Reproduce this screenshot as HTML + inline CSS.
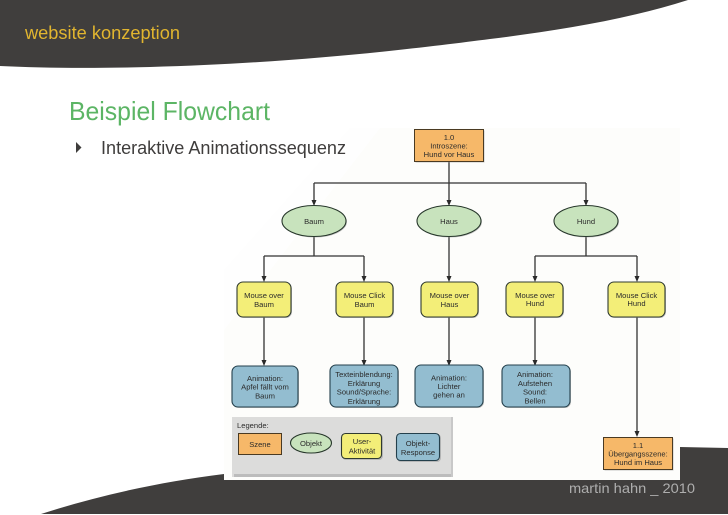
<!DOCTYPE html>
<html>
<head>
<meta charset="utf-8">
<style>
html,body{margin:0;padding:0;background:#fff;}
svg{display:block;}
text{font-family:"Liberation Sans",sans-serif;}
.n{font-size:7.6px;fill:#2b2b2b;text-anchor:middle;}
.c{stroke:#333;stroke-width:1.3;fill:none;}
.a{fill:#2a2a2a;}
.y{fill:#f3ee78;stroke:#2f3a30;stroke-width:1.1;}
.b{fill:#93bdd0;stroke:#24404c;stroke-width:1.1;}
.o{fill:#f6b869;stroke:#4a3a22;stroke-width:1;}
.e{fill:#c8e3bd;stroke:#27372b;stroke-width:1.1;}
.s{fill:#9a9a9a;opacity:.55;}
</style>
</head>
<body>
<svg width="728" height="515" viewBox="0 0 728 515" xmlns="http://www.w3.org/2000/svg">
<rect width="728" height="515" fill="#fff"/>

<!-- scanned image background -->
<path d="M350 128H680V480H224V270Z" fill="#fdfdfb"/>
<path d="M224 270L350 128H380L224 330Z" fill="#fefefe"/>

<!-- header -->
<path d="M0 0H688C625 20 555 31 490 39C420 48 300 63 150 67C90 68.500 40 68 0 66Z" fill="#403e3d"/>
<text x="25" y="39" font-size="18" fill="#e1b52f" textLength="155" lengthAdjust="spacingAndGlyphs">website konzeption</text>
<text x="69" y="120" font-size="26" fill="#5cb565" textLength="201" lengthAdjust="spacingAndGlyphs">Beispiel Flowchart</text>
<path d="M76 142L81.500 147.500L76 153Z" fill="#3f3d3c"/>
<text x="101" y="154" font-size="18" fill="#3f3d3c" textLength="245" lengthAdjust="spacingAndGlyphs">Interaktive Animationssequenz</text>

<!-- bottom band -->
<path d="M41 514C100 495 160 482 224 474V480H680V447L728 448V514Z" fill="#403e3d"/>
<text x="569" y="493" font-size="14" fill="#aeaeae" textLength="126" lengthAdjust="spacingAndGlyphs">martin hahn _ 2010</text>

<!-- connectors -->
<path class="c" d="M449 161V201M314 183H586M314 183V201M586 183V201"/>
<path class="c" d="M314 237V256M264 256H364M264 256V277M364 256V277"/>
<path class="c" d="M449 237V277"/>
<path class="c" d="M586 237V256M535 256H637M535 256V277M637 256V277"/>
<path class="c" d="M264 317V361M364 317V361M449 317V361M535 317V361M637 317V432"/>
<g class="a">
<path d="M311.500 200L316.500 200L314 206Z"/><path d="M446.500 200L451.500 200L449 206Z"/><path d="M583.500 200L588.500 200L586 206Z"/>
<path d="M261.500 276L266.500 276L264 282Z"/><path d="M361.500 276L366.500 276L364 282Z"/><path d="M446.500 276L451.500 276L449 282Z"/><path d="M532.500 276L537.500 276L535 282Z"/><path d="M634.500 276L639.500 276L637 282Z"/>
<path d="M261.500 360L266.500 360L264 366Z"/><path d="M361.500 360L366.500 360L364 366Z"/><path d="M446.500 360L451.500 360L449 366Z"/><path d="M532.500 360L537.500 360L535 366Z"/><path d="M634.500 431L639.500 431L637 437Z"/>
</g>

<!-- top scene -->
<rect class="s" x="415.500" y="130.500" width="69" height="32"/>
<rect class="o" x="414.500" y="129.500" width="69" height="32"/>
<text class="n" x="449" y="140">1.0</text>
<text class="n" x="449" y="148.500">Introszene:</text>
<text class="n" x="449" y="157">Hund vor Haus</text>

<!-- ellipses -->
<ellipse class="s" cx="315" cy="222" rx="32" ry="15.500"/>
<ellipse class="e" cx="314" cy="221" rx="32" ry="15.500"/>
<text class="n" x="314" y="224">Baum</text>
<ellipse class="s" cx="450" cy="222" rx="32" ry="15.500"/>
<ellipse class="e" cx="449" cy="221" rx="32" ry="15.500"/>
<text class="n" x="449" y="224">Haus</text>
<ellipse class="s" cx="587" cy="222" rx="32" ry="15.500"/>
<ellipse class="e" cx="586" cy="221" rx="32" ry="15.500"/>
<text class="n" x="586" y="224">Hund</text>

<!-- yellow -->
<rect class="s" x="238" y="283" width="54" height="35" rx="6"/>
<rect class="y" x="237" y="282" width="54" height="35" rx="6"/>
<text class="n" x="264" y="298">Mouse over</text><text class="n" x="264" y="307">Baum</text>
<rect class="s" x="337" y="283" width="57" height="35" rx="6"/>
<rect class="y" x="336" y="282" width="57" height="35" rx="6"/>
<text class="n" x="364.500" y="298">Mouse Click</text><text class="n" x="364.500" y="307">Baum</text>
<rect class="s" x="422" y="283" width="57" height="35" rx="6"/>
<rect class="y" x="421" y="282" width="57" height="35" rx="6"/>
<text class="n" x="449.500" y="298">Mouse over</text><text class="n" x="449.500" y="307">Haus</text>
<rect class="s" x="507" y="283" width="57" height="35" rx="6"/>
<rect class="y" x="506" y="282" width="57" height="35" rx="6"/>
<text class="n" x="535" y="298">Mouse over</text><text class="n" x="535" y="306">Hund</text>
<rect class="s" x="609" y="283" width="57" height="35" rx="6"/>
<rect class="y" x="608" y="282" width="57" height="35" rx="6"/>
<text class="n" x="636.500" y="298">Mouse Click</text><text class="n" x="636.500" y="306">Hund</text>

<!-- blue -->
<rect class="s" x="233" y="367" width="66" height="41" rx="6"/>
<rect class="b" x="232" y="366" width="66" height="41" rx="6"/>
<text class="n" x="265" y="381">Animation:</text><text class="n" x="265" y="389.500">Apfel fällt vom</text><text class="n" x="265" y="398.500">Baum</text>
<rect class="s" x="331" y="366" width="68" height="42" rx="6"/>
<rect class="b" x="330" y="365" width="68" height="42" rx="6"/>
<text class="n" x="364" y="377">Texteinblendung:</text><text class="n" x="364" y="386">Erklärung</text><text class="n" x="364" y="394.500">Sound/Sprache:</text><text class="n" x="364" y="404">Erklärung</text>
<rect class="s" x="416" y="366" width="68" height="42" rx="6"/>
<rect class="b" x="415" y="365" width="68" height="42" rx="6"/>
<text class="n" x="449" y="380.500">Animation:</text><text class="n" x="449" y="389">Lichter</text><text class="n" x="449" y="397.500">gehen an</text>
<rect class="s" x="503" y="366" width="68" height="42" rx="6"/>
<rect class="b" x="502" y="365" width="68" height="42" rx="6"/>
<text class="n" x="535" y="377">Animation:</text><text class="n" x="535" y="386">Aufstehen</text><text class="n" x="535" y="394.500">Sound:</text><text class="n" x="535" y="403.500">Bellen</text>

<!-- 1.1 -->
<rect class="s" x="604.500" y="438.500" width="69" height="32"/>
<rect class="o" x="603.500" y="437.500" width="69" height="32"/>
<text class="n" x="638" y="448">1.1</text>
<text class="n" x="638" y="456.500">Übergangsszene:</text>
<text class="n" x="638" y="465">Hund im Haus</text>

<!-- legend -->
<rect x="232" y="417" width="221" height="60" fill="#dcdcdb"/>
<rect x="234" y="474" width="219" height="3" fill="#bcbcbc"/>
<rect x="451" y="417" width="2" height="60" fill="#c8c8c8"/>
<text class="n" x="237" y="428" style="text-anchor:start" fill="#444">Legende:</text>
<rect class="s" x="239" y="434" width="43" height="21"/>
<rect class="o" x="238.500" y="433.500" width="43" height="21"/>
<text class="n" x="260" y="447">Szene</text>
<ellipse class="e" cx="311" cy="443" rx="20.500" ry="10"/>
<text class="n" x="311" y="446">Objekt</text>
<rect class="s" x="342" y="434" width="41" height="26" rx="4"/>
<rect class="y" x="341.500" y="433.500" width="40" height="25" rx="4"/>
<text class="n" x="362" y="444">User-</text><text class="n" x="362" y="453.500">Aktivität</text>
<rect class="s" x="397" y="434" width="44" height="28" rx="4"/>
<rect class="b" x="396.500" y="433.500" width="43" height="27" rx="4"/>
<text class="n" x="418" y="446">Objekt-</text><text class="n" x="418" y="455">Response</text>
</svg>
</body>
</html>
